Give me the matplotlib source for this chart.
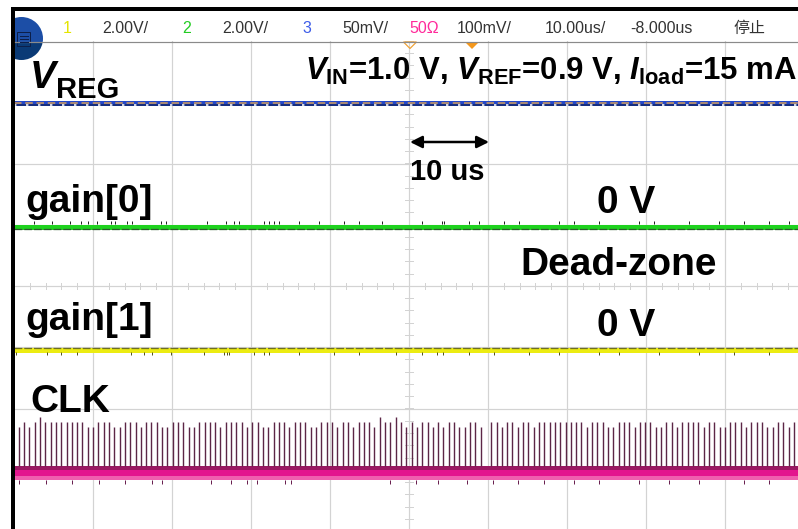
import numpy as np
import matplotlib.pyplot as plt
from matplotlib.patches import Rectangle, Circle, Polygon

plt.rcParams['font.family'] = ['Liberation Sans', 'Noto Sans CJK SC', 'DejaVu Sans']
plt.rcParams['mathtext.fontset'] = 'custom'
plt.rcParams['mathtext.rm'] = 'Liberation Sans:bold'
plt.rcParams['mathtext.it'] = 'Liberation Sans:italic:bold'
plt.rcParams['mathtext.bf'] = 'Liberation Sans:bold'

W, H = 798, 529
PX = 0.72  # points per pixel at dpi 100

# scope header
header_labels = ['1', '2.00V/', '2', '2.00V/', '3', '50mV/', '50Ω', '100mV/', '10.00us/', '-8.000us', '停止']
header_colors = ['#e4e400', '#333333', '#22cc22', '#333333', '#3d5ce8', '#333333', '#ff2a9a',
                 '#333333', '#333333', '#333333', '#333333']

# trace offsets on screen (divisions from centre)
vreg_level = 2.98
gain0_level = 0.97
gain1_level = -1.04
clk_level = -3.05

# CLK pulses: first edge and period in us, pulse height in mV (100mV/div)
clk_start = -49.4
clk_period = 0.672
clk_pulse_mv = [64, 72, 64, 72, 80, 72, 72, 72, 72, 72, 72, 72, 72, 64, 64, 72, 72, 72, 64, 64,
                72, 72, 72, 64, 72, 72, 72, 64, 64, 72, 72, 72, 64, 64, 72, 72, 72, 72, 64, 72,
                72, 72, 72, 64, 72, 72, 64, 64, 72, 72, 72, 64, 72,
                72, 72, 64, 64, 72, 72, 72, 64, 72, 72, 64, 72, 72, 72, 64,
                80, 72, 72, 80, 72, 64, 72, 64, 72, 72, 64, 72, 64, 72, 72, 64, 64, 72, 72, 64,
                0, 72, 72, 64, 72, 72, 64, 72, 72, 64, 72, 72, 72, 72, 72, 72, 72, 72,
                72, 64, 72, 72, 72, 64, 64, 72, 72, 72, 64, 72, 72, 72, 64, 64, 72, 72, 64, 72,
                72, 72, 72, 64, 72, 72, 64, 64, 72, 72, 72, 64, 72, 72, 72, 64, 64, 72, 72, 64, 72]

# small glitches on each trace (us)
gain0_glitch_us = [-47.5, -45.2, -42.9, -41.5, -40.6, -39.5, -37.7, -37.2, -35.7, -35.1, -31.4,
                   -30.8, -25.6, -23.2, -22.2, -21.5, -18.4, -17.7, -17.1, -16.5, -13.9, -11.4,
                   -8.2, -6.3, -3.4, 1.6, 4.2, 4.4, 7.6, 8.9, 12.0, 13.9, 19.0, 20.9, 24.1, 29.1,
                   31.0, 35.4, 39.2, 42.4, 45.6, 48.1]
gain1_glitch_us = [-49.7, -45.8, -44.1, -42.0, -35.2, -33.5, -32.5, -30.1, -25.9, -23.4, -23.0,
                   -22.8, -19.6, -18.4, -17.7, -13.9, -9.5, -6.3, -1.6, 1.6, 3.5, 4.3, 7.6, 10.8,
                   15.2, 19.0, 24.1, 26.6, 31.6, 36.7, 41.1, 45.6]
clk_glitch_us = [-49.4, -46.0, -42.7, -39.2, -36.0, -32.5, -31.3, -25.1, -22.5, -20.5, -19.2,
                 -15.7, -14.9, -2.4, 0.9, 3.7, 7.3, 10.6, 13.8, 17.1, 20.9, 24.1, 29.1, 32.9,
                 36.7, 42.4, 45.6]

fig = plt.figure(figsize=(W / 100, H / 100), dpi=100)

# ---- graticule + traces ----
ax = fig.add_axes([14 / W, 1 - 531 / H, 790 / W, 490 / H])
ax.set_xlim(-50, 50)
ax.set_ylim(-4, 4)
ax.axis('off')

grid_c = '#d3d3d3'
for x in range(-40, 50, 10):
    ax.axvline(x, color=grid_c, lw=1.2 * PX, zorder=1)
for y in range(-3, 4):
    ax.axhline(y, color=grid_c, lw=1.2 * PX, zorder=1)
for y in np.arange(-4, 4.01, 0.2):
    ax.plot([-0.45, 0.45], [y, y], color=grid_c, lw=1 * PX, zorder=1)
for x in np.arange(-50, 50.1, 2):
    ax.plot([x, x], [-0.05, 0.05], color=grid_c, lw=1 * PX, zorder=1)

# VREG (ch3)
ax.plot([-50, 50], [vreg_level] * 2, color='#2448c8', lw=5 * PX, solid_capstyle='butt', zorder=3)
ax.plot([-50, 50], [vreg_level - 0.03] * 2, color='#14286e', lw=1.6 * PX, zorder=3)
ax.plot([-50, 50], [vreg_level - 0.03] * 2, color='white', lw=1.6 * PX, dashes=(1.5, 6), zorder=3)
ax.plot([-50, 50], [vreg_level + 0.005] * 2, color='#d8a05a', lw=1.5 * PX, dashes=(5, 2.5), zorder=4)

# gain[0] (ch2)
ax.plot([-50, 50], [gain0_level] * 2, color='#1fd21f', lw=5 * PX, solid_capstyle='butt', zorder=3)
ax.plot([-50, 50], [gain0_level - 0.035] * 2, color='#2b5a2b', lw=1.3 * PX, dashes=(6, 1.5), zorder=4)
ax.vlines(gain0_glitch_us, gain0_level + 0.04, gain0_level + 0.09, color='#222222', lw=1 * PX, zorder=4)

# gain[1] (ch1)
ax.plot([-50, 50], [gain1_level] * 2, color='#ecec12', lw=5 * PX, solid_capstyle='butt', zorder=3)
ax.plot([-50, 50], [gain1_level + 0.035] * 2, color='#6e6e22', lw=1.3 * PX, dashes=(6, 1.5), zorder=4)
ax.vlines(gain1_glitch_us, gain1_level - 0.09, gain1_level - 0.045, color='#555522', lw=1 * PX, zorder=4)

# CLK (ch4)
band_top = clk_level + 0.11
ax.axhspan(clk_level + 0.045, band_top, color='#9a1862', lw=0, zorder=3)
ax.axhspan(clk_level - 0.05, clk_level + 0.045, color='#e3158e', lw=0, zorder=3)
ax.axhspan(clk_level - 0.115, clk_level - 0.05, color='#ef5fae', lw=0, zorder=3)
clk_t = clk_start + clk_period * np.arange(len(clk_pulse_mv))
clk_h = np.array(clk_pulse_mv) / 100.0
keep = clk_h > 0
ax.vlines(clk_t[keep], band_top, band_top + clk_h[keep], color='#5c2646', lw=1.4 * PX, zorder=4)
ax.vlines(clk_glitch_us, clk_level - 0.115, clk_level - 0.18, color='#6a2050', lw=1 * PX, zorder=4)

# ---- screen furniture and annotations (pixel coordinates) ----
ov = fig.add_axes([0, 0, 1, 1])
ov.set_xlim(0, W)
ov.set_ylim(H, 0)
ov.axis('off')
ov.patch.set_alpha(0)

ov.add_patch(Rectangle((11, 7), W - 11, 3.5, fc='black', lw=0))
ov.add_patch(Rectangle((11, 7), 4, H - 7, fc='black', lw=0))
ov.plot([15, W], [41.5, 41.5], color='#8a8a8a', lw=1.2 * PX)

# menu button
for fc, (y0, hgt) in [('#1c4ea6', (0, 42)), ('#0a3a76', (42, 30))]:
    clip = Rectangle((15, y0), 40, hgt, transform=ov.transData)
    c = Circle((21.5, 38.5), 21.5, fc=fc, lw=0)
    ov.add_patch(c)
    c.set_clip_path(clip)
ov.add_patch(Rectangle((17, 32), 13, 14, fill=False, ec='#0c1f4a', lw=1 * PX))
for yy in (36, 39, 42):
    ov.plot([19.5, 27.5], [yy, yy], color='#0c1f4a', lw=1 * PX)

header_x = [63, 102, 182, 222, 302, 342, 409, 457, 545, 630, 733]
for lab, col, x in zip(header_labels, header_colors, header_x):
    ov.text(x, 33, lab, color=col, fontsize=11.5, va='baseline')

ov.add_patch(Polygon([(403.5, 42), (416.5, 42), (410, 48.5)], closed=True, fill=False, ec='#f0a030', lw=1.2 * PX))
ov.add_patch(Polygon([(465, 42), (479, 42), (472, 49)], closed=True, fc='#f5981c', lw=0))

big = dict(fontsize=28, fontweight='bold', va='baseline')
ov.text(30, 88, 'V', fontstyle='italic', **big)
ov.text(56, 98, 'REG', fontsize=21, fontweight='bold', va='baseline')
ov.text(305, 80, r'$V_{\rm IN}$=1.0 V, $V_{\rm REF}$=0.9 V, $I_{\rm load}$=15 mA',
        fontsize=22.4, fontweight='bold', va='baseline')
ov.text(25, 212, 'gain[0]', **big)
ov.text(597, 213, '0 V', **big)
ov.text(520, 275, 'Dead-zone', **big)
ov.text(25, 330, 'gain[1]', **big)
ov.text(597, 336, '0 V', **big)
ov.text(30, 412, 'CLK', **big)

ov.annotate('', xy=(489, 142), xytext=(410, 142),
            arrowprops=dict(arrowstyle='<|-|>', color='black', lw=2.5 * PX,
                            mutation_scale=18, shrinkA=0, shrinkB=0))
ov.text(410, 180, '10 us', fontsize=21, fontweight='bold', va='baseline')

fig.savefig('out.png', dpi=100)
